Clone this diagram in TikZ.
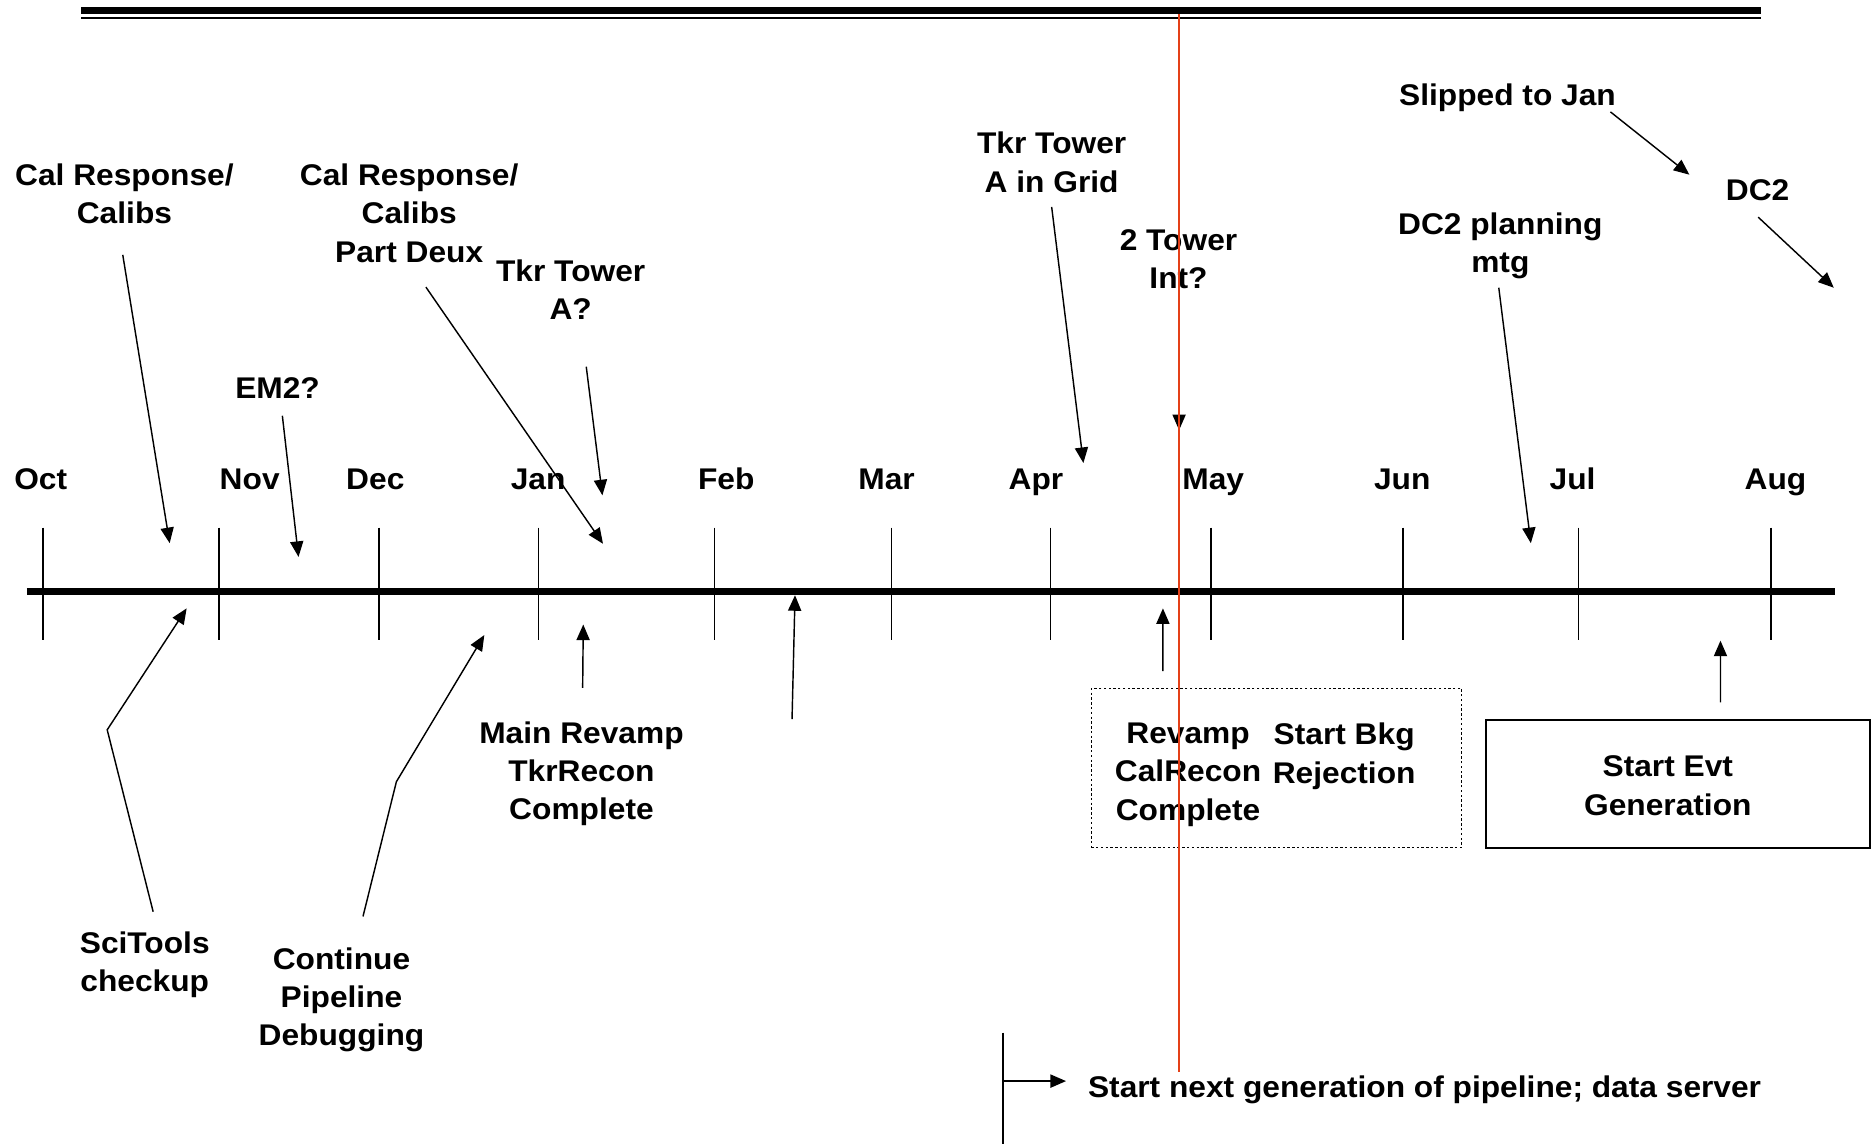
\documentclass[tikz,border=0pt]{standalone}
\usepackage{fontspec}
\setmainfont{Liberation Sans}[FakeStretch=1.06]
\usepackage{xcolor}
\usepackage{tikz}
\usetikzlibrary{arrows.meta}
\definecolor{nowred}{RGB}{228,64,24}

\begin{document}
\begin{tikzpicture}[
    x=0.5pt, y=-0.5pt,
    font=\fontsize{12.5}{16}\selectfont\bfseries,
    note/.style={align=center, inner sep=0pt, anchor=north},
    month/.style={inner sep=0pt, anchor=base},
    tickline/.style={line width=0.7pt},
    arrow/.style={-{Triangle[length=6.5pt,width=5.5pt]}, line width=0.6pt},
    dotbox/.style={
      rectangle, draw=black, line width=0.6pt, dash pattern=on 1pt off 1pt,
      minimum width=154.8pt, minimum height=66.6pt
    },
    evtbox/.style={
      rectangle, draw=black, line width=0.9pt,
      minimum width=160.6pt, minimum height=53.4pt
    }
  ]
  \useasboundingbox (0,0) rectangle (1568,956);

  % Top rule
  \draw[line width=3pt] (68,8.7) -- (1472,8.7);
  \draw[line width=0.8pt] (68,14.8) -- (1472,14.8);

  % Timeline and month ticks
  \draw[line width=3pt] (22.4,494.5) -- (1533.6,494.5);
  \draw[tickline] (36,441) -- (36,535);
  \draw[tickline] (182.8,441) -- (182.8,535);
  \draw[tickline] (316.6,441) -- (316.6,535);
  \draw[tickline] (450,441) -- (450,535);
  \draw[tickline] (597.3,441) -- (597.3,535);
  \draw[tickline] (745,441) -- (745,535);
  \draw[tickline] (878,441) -- (878,535);
  \draw[tickline] (1011.9,441) -- (1011.9,535);
  \draw[tickline] (1172.6,441) -- (1172.6,535);
  \draw[tickline] (1319.3,441) -- (1319.3,535);
  \draw[tickline] (1480,441) -- (1480,535);

  \node[month] (oct) at (34,409) {Oct};
  \node[month] (nov) at (208.7,409) {Nov};
  \node[month] (dec) at (313.7,409) {Dec};
  \node[month] (jan) at (449.8,409) {Jan};
  \node[month] (feb) at (607,409) {Feb};
  \node[month] (mar) at (741,409) {Mar};
  \node[month] (apr) at (865.9,409) {Apr};
  \node[month] (may) at (1014,409) {May};
  \node[month] (jun) at (1172,409) {Jun};
  \node[month] (jul) at (1314.4,409) {Jul};
  \node[month] (aug) at (1484,409) {Aug};

  % Milestones above the line
  \node[note] (calresp) at (104,136.6) {Cal Response/\\Calibs};
  \node[note] (em2) at (232,315.4) {EM2?};
  \node[note] (deux) at (342,136.6) {Cal Response/\\Calibs\\Part Deux};
  \node[note] (towera) at (477,216.6) {Tkr Tower\\A?};
  \node[note] (grid) at (879,110.2) {Tkr Tower\\A in Grid};
  \node[note] (twotower) at (985,191.2) {2 Tower\\Int?};
  \node[note] (slipped) at (1260,70) {Slipped to Jan};
  \node[note] (dctwo) at (1469,149.4) {DC2};
  \node[note] (planning) at (1254,177.2) {DC2 planning\\mtg};

  \coordinate (calresp-tip) at (141.8,454);
  \coordinate (em2-tip) at (249.5,465.5);
  \coordinate (deux-tip) at (504,454.5);
  \coordinate (towera-tip) at (503.5,414);
  \coordinate (grid-tip) at (905.5,387);
  \coordinate (twotower-tip) at (985.5,359.5);
  \coordinate (slipped-tip) at (1412,146);
  \coordinate (dctwo-tip) at (1532.7,240.5);
  \coordinate (planning-tip) at (1279.5,454);

  \draw[arrow] ([shift={(-1.4,76.4)}]calresp.north) -- (calresp-tip);
  \draw[arrow] ([shift={(4,32.1)}]em2.north) -- (em2-tip);
  \draw[arrow] ([shift={(14,103.4)}]deux.north) -- (deux-tip);
  \draw[arrow] ([shift={(13,89.9)}]towera.north) -- (towera-tip);
  \draw[arrow] ([shift={(0,62.8)}]grid.north) -- (grid-tip);
  \draw[arrow] ([shift={(0.5,62.3)}]twotower.north) -- (twotower-tip);
  \draw[arrow] ([shift={(86,23.5)}]slipped.north) -- (slipped-tip);
  \draw[arrow] ([shift={(0.5,32.1)}]dctwo.north) -- (dctwo-tip);
  \draw[arrow] ([shift={(-1.3,63.3)}]planning.north) -- (planning-tip);

  % Milestones below the line
  \node[note] (scitools) at (121,778.6) {SciTools\\checkup};
  \node[note] (continue) at (285.4,791.6) {Continue\\Pipeline\\Debugging};
  \node[note] (mainrev) at (486,602.6) {Main Revamp\\TkrRecon\\Complete};
  \node[dotbox] (bkgbox) at (1066.9,641.9) {};
  \node[note] (calrecon) at (993,604) {Revamp\\CalRecon\\Complete};
  \node[note] (bkgrej) at (1123.5,604) {Start Bkg\\Rejection};
  \node[evtbox] (evtbox) at (1402.3,655.2) {};
  \node[note] (evttxt) at (1394,631.5) {Start Evt\\Generation};

  \coordinate (scitools-bend) at (89.6,610);
  \coordinate (scitools-tip) at (156,508.5);
  \coordinate (continue-bend) at (331.3,653.4);
  \coordinate (continue-tip) at (404.8,530.8);
  \coordinate (mainrev-tip) at (487.5,522);
  \coordinate (feb-from) at (662,601);
  \coordinate (feb-tip) at (664.5,497.5);
  \coordinate (bkgbox-tip) at (972,508.5);
  \coordinate (evtbox-tip) at (1438,535.5);

  \draw[arrow] ([shift={(7,-16.6)}]scitools.north) -- (scitools-bend) -- (scitools-tip);
  \draw[arrow] ([shift={(18,-25.6)}]continue.north) -- (continue-bend) -- (continue-tip);
  \draw[arrow] ([shift={(1,-27.6)}]mainrev.north) -- (mainrev-tip);
  \draw[arrow] (feb-from) -- (feb-tip);
  \draw[arrow] ([shift={(-95,-13.8)}]bkgbox.north) -- (bkgbox-tip);
  \draw[arrow] ([shift={(35.7,-13.8)}]evtbox.north) -- (evtbox-tip);

  % Pipeline bar
  \coordinate (bartop) at (838.4,863);
  \coordinate (barbot) at (838.4,956);
  \coordinate (barmid) at (838.4,903.6);
  \draw[line width=0.85pt] (bartop) -- (barbot);
  \node[anchor=base west, inner sep=0pt] (pipetxt) at (909,917)
    {Start next generation of pipeline; data server};
  \draw[arrow, shorten >=9pt] (barmid) -- (barmid -| pipetxt.west);

  % Today marker
  \draw[nowred, line width=0.6pt] (985.3,12) -- (985.3,896);

\end{tikzpicture}
\end{document}
